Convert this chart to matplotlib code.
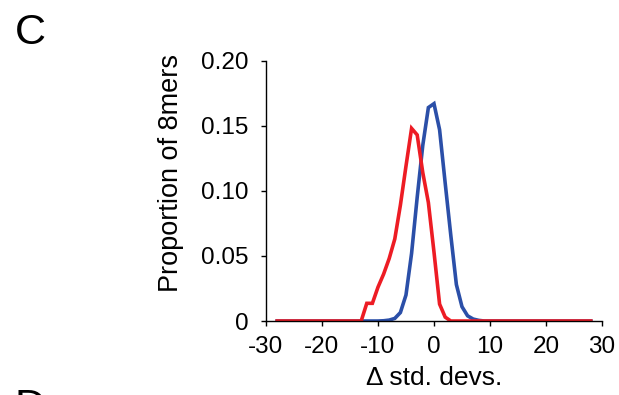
import matplotlib
matplotlib.use("Agg")
import matplotlib.pyplot as plt

plt.rcParams['font.family'] = ['Liberation Sans', 'DejaVu Sans']

# Distribution of 8mer shifts, in standard deviations
blue_x = [-28, -10, -9, -8, -7, -6, -5, -4, -3, -2, -1, 0, 1, 2, 3, 4, 5, 6, 7, 8, 9, 28]
blue_y = [0.0, 0.0, 0.0002, 0.0007, 0.002, 0.0065, 0.020, 0.052, 0.095, 0.135, 0.164,
          0.167, 0.147, 0.106, 0.066, 0.028, 0.011, 0.004, 0.0015, 0.0005, 0.0, 0.0]

red_x = [-28, -13, -12, -11, -10, -9, -8, -7, -6, -5, -4, -3, -2, -1, 0, 1, 2, 3, 28]
red_y = [0.0, 0.0, 0.0136, 0.0136, 0.026, 0.036, 0.048, 0.063, 0.089, 0.119, 0.148,
         0.143, 0.114, 0.091, 0.053, 0.013, 0.003, 0.0, 0.0]

x_ticks = [-30, -20, -10, 0, 10, 20, 30]
y_ticks = [0, 0.05, 0.10, 0.15, 0.20]
y_tick_labels = ['0', '0.05', '0.10', '0.15', '0.20']

fig = plt.figure(figsize=(6.19, 3.95), dpi=100)
ax = fig.add_axes([0.4297, 0.1873, 0.5428, 0.6590])

ax.plot(blue_x, blue_y, color='#2B4FA8', lw=2.6, solid_joinstyle='miter')
ax.plot(red_x, red_y, color='#ED1C24', lw=2.6, solid_joinstyle='miter')

ax.set_xlim(-30, 30)
ax.set_ylim(0, 0.20)
ax.set_xticks(x_ticks)
ax.set_xticklabels([str(t) for t in x_ticks])
ax.set_yticks(y_ticks)
ax.set_yticklabels(y_tick_labels)

for side in ('top', 'right'):
    ax.spines[side].set_visible(False)
for side in ('left', 'bottom'):
    ax.spines[side].set_linewidth(1.0)

ax.tick_params(axis='both', direction='out', length=3.5, width=1.0, labelsize=17.5)
ax.tick_params(axis='y', pad=9)
ax.tick_params(axis='x', pad=7)

ax.set_xlabel('\u0394 std. devs.', fontsize=19, labelpad=6)
ax.set_ylabel('Proportion of 8mers', fontsize=19.5)
ax.yaxis.set_label_coords(-0.245, 0.57)

# panel letters
fig.text(15 / 619, 1 - 13 / 395, 'C', fontsize=31, ha='left', va='top')
fig.text(15 / 619, 1 - 388 / 395, 'D', fontsize=31, ha='left', va='top')

fig.savefig('out.png', dpi=100)
